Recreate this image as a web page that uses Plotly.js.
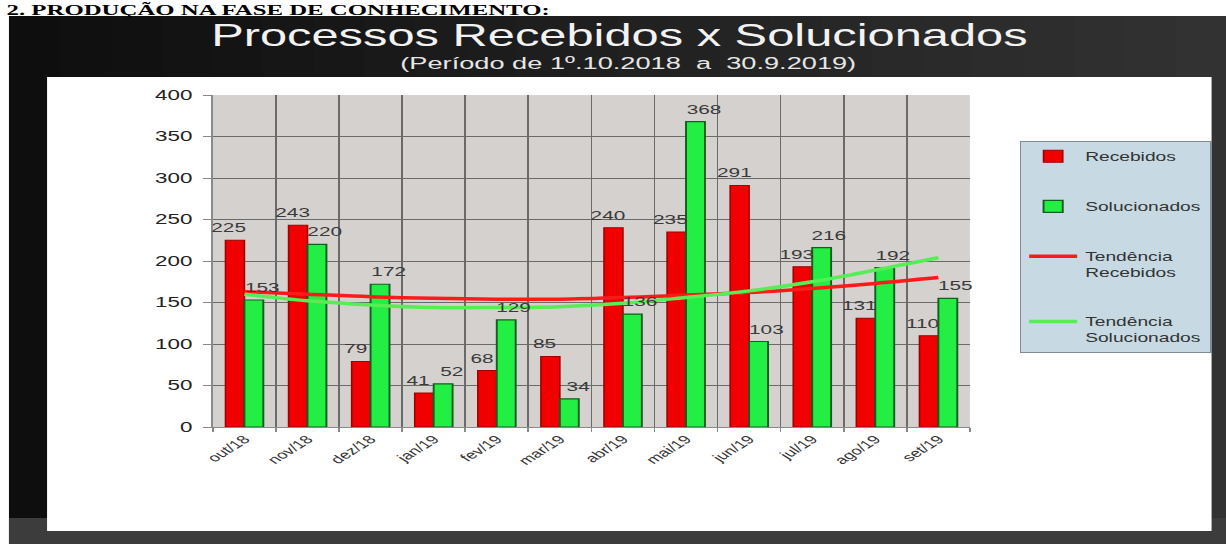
<!DOCTYPE html>
<html>
<head>
<meta charset="utf-8">
<script src="https://cdn.plot.ly/plotly-3.0.1.min.js"></script>
<style>
html,body{margin:0;padding:0;background:#ffffff;overflow:hidden;}
#wrap{width:1226px;height:544px;overflow:hidden;position:relative;}
#chart{width:766px;height:544px;transform:scaleX(1.60052);transform-origin:0 0;}
</style>
</head>
<body>
<div id="wrap"><div id="chart"></div></div>
<script>
// ---- data ----
const months = ['out/18','nov/18','dez/18','jan/19','fev/19','mar/19','abr/19','mai/19','jun/19','jul/19','ago/19','set/19'];
const recebidos = [225, 243, 79, 41, 68, 85, 240, 235, 291, 193, 131, 110];
const solucionados = [153, 220, 172, 52, 129, 34, 136, 368, 103, 216, 192, 155];
const tendenciaRecebidos = [163, 160, 157, 155, 154, 154, 156, 159, 162, 167, 173, 180];
const tendenciaSolucionados = [160, 152, 147, 144, 144, 145, 149, 156, 164, 175, 189, 204];
const yTickValues = [0, 50, 100, 150, 200, 250, 300, 350, 400];
const seriesNames = ['Recebidos', 'Solucionados', 'Tendência<br>Recebidos', 'Tendência<br>Solucionados'];
const titleText = 'Processos Recebidos x Solucionados';
const subtitleText = '(Período de 1º.10.2018  a  30.9.2019)';
const headingText = '2. PRODUÇÃO NA FASE DE CONHECIMENTO:';

// ---- geometry (unscaled page, stretched horizontally by CSS) ----
const W = 766, H = 544, ML = 133, MR = 160, MT = 95, MB = 117;
const PW = W - ML - MR, PH = H - MT - MB;
const fx = p => (p - ML) / PW;
const fy = p => (H - MB - p) / PH;
function rect(x0, y0, x1, y1, color) {
  return {type:'rect', xref:'paper', yref:'paper', x0:fx(x0), x1:fx(x1), y0:fy(y1), y1:fy(y0),
          fillcolor:color, line:{width:0}, layer:'below'};
}

const shapes = [];
const nStrips = 24, sx0 = 5.6, sx1 = W, slideTop = 16;
for (let i = 0; i < nStrips; i++) {
  const a = sx0 + i * (sx1 - sx0) / nStrips;
  const b = sx0 + (i + 1) * (sx1 - sx0) / nStrips + 0.6;
  const g = Math.round(14 + (50 - 14) * i / (nStrips - 1));
  shapes.push(rect(a, slideTop, b, 544, 'rgb(' + g + ',' + g + ',' + g + ')'));
}
shapes.push(rect(5.6, 518, W, 544, '#3c3c3c'));
shapes.push(rect(29.4, 77, 757, 531, '#ffffff'));
shapes.push(rect(ML, MT, ML + PW, MT + PH, '#d4d1ce'));

const FONT = 'Liberation Sans, Arial, sans-serif';

const traces = [
  {type:'bar', name:seriesNames[0], x:months, y:recebidos, legendgroup:'g1',
   marker:{color:'#f00000', line:{color:'#a00000', width:1}}, hoverinfo:'skip'},
  {type:'bar', name:seriesNames[1], x:months, y:solucionados, legendgroup:'g2',
   marker:{color:'#22ee44', line:{color:'#155c20', width:1.2}}, hoverinfo:'skip'},
  {type:'scatter', mode:'lines', name:seriesNames[2], x:months, y:tendenciaRecebidos, legendgroup:'g3',
   line:{color:'#ff1a1a', width:3.5, shape:'spline'}, hoverinfo:'skip'},
  {type:'scatter', mode:'lines', name:seriesNames[3], x:months, y:tendenciaSolucionados, legendgroup:'g4',
   line:{color:'#55ee55', width:3.5, shape:'spline'}, hoverinfo:'skip'}
];

// value labels, placed through the axes at each bar's top
const labelFont = {family:FONT, size:13, color:'#3a3a3a'};
const valueLabels = [].concat(
  months.map((m, i) => ({x:m, y:recebidos[i], xref:'x', yref:'y', text:String(recebidos[i]),
    showarrow:false, xanchor:'center', yanchor:'bottom', xshift:-9.5, yshift:3, font:labelFont})),
  months.map((m, i) => ({x:m, y:solucionados[i], xref:'x', yref:'y', text:String(solucionados[i]),
    showarrow:false, xanchor:'center', yanchor:'bottom', xshift:11, yshift:3, font:labelFont}))
);

const layout = {
  width: W, height: H,
  margin: {l:ML, r:MR, t:MT, b:MB, autoexpand:false},
  paper_bgcolor: '#ffffff',
  plot_bgcolor: '#d4d1ce',
  font: {family: FONT, color:'#333333'},
  barmode: 'group', bargap: 0.4, bargroupgap: 0,
  title: {text: titleText, font:{family:FONT, size:30.5, color:'#f2f2f2'},
          xref:'container', x: 387 / W, xanchor:'center',
          yref:'container', y: 1 - 35.5 / H, yanchor:'middle'},
  xaxis: {type:'category', range:[-0.5, months.length - 0.5], autorange:false,
          tickangle:-45, tickson:'boundaries', showgrid:true,
          gridcolor:'#6a6a6a', gridwidth:1, ticks:'outside', ticklen:4, tickcolor:'#888888',
          showline:true, linecolor:'#8a8a8a', linewidth:1,
          tickfont:{family:FONT, size:11.5, color:'#333333'}, fixedrange:true},
  yaxis: {range:[0, 400], autorange:false, tickvals:yTickValues, showgrid:true, gridcolor:'#6a6a6a', gridwidth:1,
          zeroline:false, showline:true, linecolor:'#8a8a8a', linewidth:1,
          ticks:'outside', ticklen:5, tickcolor:'#888888', ticklabelstandoff:4,
          tickfont:{family:FONT, size:14, color:'#222222'}, fixedrange:true},
  legend: {x: fx(637), y: fy(141), xanchor:'left', yanchor:'top',
           bgcolor:'#c7dae3', bordercolor:'#7f8c92', borderwidth:1,
           font:{family:FONT, size:12, color:'#333333'},
           traceorder:'grouped', tracegroupgap:31, valign:'top', itemwidth:30},
  shapes: shapes,
  annotations: [
    {text: subtitleText, xref:'paper', yref:'paper', x: fx(392), y: fy(64),
     xanchor:'center', yanchor:'middle', showarrow:false,
     font:{family:FONT, size:17, color:'#e6e6e6'}},
    {text: '<b>' + headingText + '</b>', xref:'paper', yref:'paper', x: fx(2.5), y: fy(0),
     xanchor:'left', yanchor:'top', showarrow:false, borderpad:0,
     font:{family:'Liberation Serif, Times New Roman, serif', size:15.5, color:'#000000'}}
  ].concat(valueLabels),
  showlegend: true
};

Plotly.newPlot('chart', traces, layout, {staticPlot:true, displayModeBar:false});
</script>
</body>
</html>
